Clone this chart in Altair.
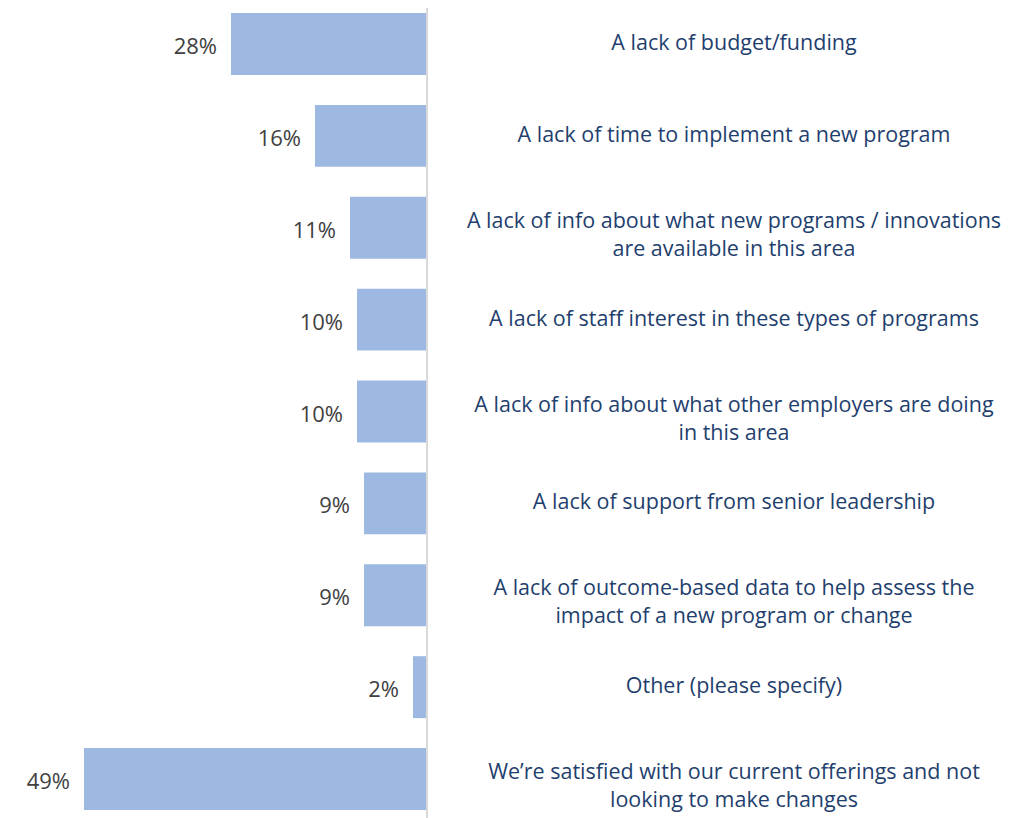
import altair as alt
import pandas as pd

categories = [
    "A lack of budget/funding",
    "A lack of time to implement a new program",
    "A lack of info about what new programs / innovations|are available in this area",
    "A lack of staff interest in these types of programs",
    "A lack of info about what other employers are doing|in this area",
    "A lack of support from senior leadership",
    "A lack of outcome-based data to help assess the|impact of a new program or change",
    "Other (please specify)",
    "We\u2019re satisfied with our current offerings and not|looking to make changes",
]
values = [28, 16, 11, 10, 10, 9, 9, 2, 49]

df = pd.DataFrame({"category": categories, "value": values})
df["neg"] = -df["value"]
df["pct"] = df["value"].astype(str) + "%"

x_scale = alt.Scale(domain=[-59.857, 84], nice=False, zero=False)
y_enc = alt.Y("category:N", sort=categories, axis=None,
              scale=alt.Scale(paddingInner=0.326, paddingOuter=0))

base = alt.Chart(df)

bars = base.mark_bar(color="#9DB9E1").encode(
    x=alt.X("neg:Q", scale=x_scale, axis=None),
    x2=alt.X2(datum=0),
    y=y_enc,
)

pct = base.mark_text(align="right", baseline="middle", dx=-14, dy=3, fontSize=22,
                     font="Open Sans", color="#404040").encode(
    x=alt.X("neg:Q", scale=x_scale, axis=None),
    y=y_enc,
    text="pct:N",
)

label_style = dict(align="center", baseline="middle", fontSize=21.5,
                   font="Open Sans", color="#1F3F6E", lineBreak="|",
                   lineHeight=28)

labels1 = base.transform_filter("indexof(datum.category, '|') < 0").mark_text(
    dy=0, **label_style).encode(
    x=alt.value(726),
    y=y_enc,
    text="category:N",
)

labels2 = base.transform_filter("indexof(datum.category, '|') >= 0").mark_text(
    dy=-6, **label_style).encode(
    x=alt.value(726),
    y=y_enc,
    text="category:N",
)

rule = alt.Chart(pd.DataFrame({"z": [0]})).mark_rule(
    color="#D9D9D9", strokeWidth=2).encode(
    x=alt.X("z:Q", scale=x_scale, axis=None),
    y=alt.value(-13),
    y2=alt.value(805),
)

chart = alt.layer(bars, rule, pct, labels1, labels2).properties(
    width=1007, height=797,
    padding={"top": 5, "left": 0, "right": 0, "bottom": 8},
    autosize=alt.AutoSizeParams(type="none"),
).configure_view(stroke=None)

chart.save("out.html", embed_options={"renderer": "svg", "actions": False})
